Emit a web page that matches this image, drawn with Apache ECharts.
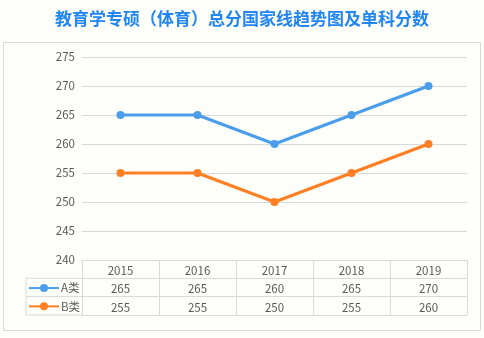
<!DOCTYPE html>
<html><head><meta charset="utf-8">
<script src="https://cdn.jsdelivr.net/npm/echarts@6/dist/echarts.min.js"></script>
<style>html,body{margin:0;padding:0;background:#fefefb;}#c{width:484px;height:338px;}</style>
</head><body><div id="c"></div>
<script>
const years = ['2015','2016','2017','2018','2019'];
const seriesA = [265, 265, 260, 265, 270];
const seriesB = [255, 255, 250, 255, 260];
const seriesNames = ['A类', 'B类'];
const yMin = 240, yMax = 275, yStep = 5;

const chart = echarts.init(document.getElementById('c'), null, {renderer: 'canvas'});
const gridLeft = 82, gridRight = 17, gridTop = 57, gridBottom = 78;
const rowH = 18.3;
const lineCol = '#d9d9d9';
const txtCol = '#595959';
const fontFam = '"Noto Sans CJK SC", "Open Sans", sans-serif';

function tableAxis(idx, labels, showLabel) {
  return {
    type: 'category', data: years, gridIndex: 0, position: 'bottom',
    offset: idx * rowH, boundaryGap: true,
    axisLine: {show: true, lineStyle: {color: lineCol, width: 1}},
    axisTick: {show: showLabel, length: rowH, lineStyle: {color: lineCol}},
    axisLabel: {show: showLabel, margin: 5, color: txtCol, fontSize: 11.5, fontFamily: fontFam,
      formatter: (v, i) => labels ? String(labels[i]) : v}
  };
}
function legendRow(i) {
  return {orient: 'horizontal', left: 28, top: 260 + rowH * (i + 1) + 4, itemWidth: 30, itemHeight: 10, padding: 0,
    textStyle: {color: txtCol, fontSize: 11.5, fontFamily: fontFam, padding: [0,0,0,-3]},
    data: [seriesNames[i]]};
}

chart.setOption({
  backgroundColor: '#fefefb',
  animation: false,
  title: {text: '教育学专硕（体育）总分国家线趋势图及单科分数', left: 'center', top: 5,
    textStyle: {color: '#2286f2', fontSize: 17, fontWeight: 'bold', fontFamily: fontFam}},
  grid: {left: gridLeft, right: gridRight, top: gridTop, bottom: gridBottom},
  legend: [legendRow(0), legendRow(1)],
  xAxis: [tableAxis(0, null, true), tableAxis(1, seriesA, true), tableAxis(2, seriesB, true), tableAxis(3, null, false)],
  yAxis: {type: 'value', min: yMin, max: yMax, interval: yStep,
    axisLine: {show: false}, axisTick: {show: false},
    axisLabel: {color: txtCol, fontSize: 11.5, margin: 7, fontFamily: fontFam},
    splitLine: {lineStyle: {color: lineCol, width: 1}}},
  graphic: [
    {type: 'line', shape: {x1: 26, y1: 260 + rowH, x2: gridLeft, y2: 260 + rowH}, style: {stroke: lineCol, lineWidth: 1}},
    {type: 'line', shape: {x1: 26, y1: 260 + 2*rowH, x2: gridLeft, y2: 260 + 2*rowH}, style: {stroke: lineCol, lineWidth: 1}},
    {type: 'line', shape: {x1: 26, y1: 260 + 3*rowH, x2: gridLeft, y2: 260 + 3*rowH}, style: {stroke: lineCol, lineWidth: 1}},
    {type: 'line', shape: {x1: 26, y1: 260 + rowH, x2: 26, y2: 260 + 3*rowH}, style: {stroke: lineCol, lineWidth: 1}},
    {type: 'rect', shape: {x: 3.5, y: 42.5, width: 477, height: 288}, style: {fill: 'none', stroke: '#d9d9d9', lineWidth: 1}, z: -1}
  ],
  series: [
    {name: seriesNames[0], type: 'line', data: seriesA, symbol: 'circle', symbolSize: 8,
      itemStyle: {color: '#4a9de8'}, lineStyle: {width: 3, color: '#4a9de8'}},
    {name: seriesNames[1], type: 'line', data: seriesB, symbol: 'circle', symbolSize: 8,
      itemStyle: {color: '#ff7f22'}, lineStyle: {width: 3, color: '#ff7f22'}}
  ]
});
</script></body></html>
